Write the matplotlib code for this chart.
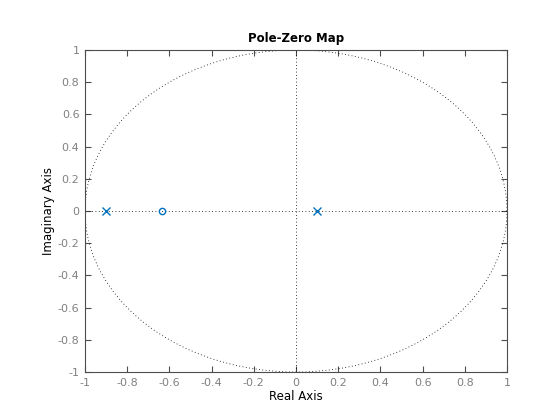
import numpy as np
import matplotlib
matplotlib.use("Agg")
import matplotlib.pyplot as plt

poles_re = [-0.9, 0.1]
poles_im = [0.0, 0.0]
zeros_re = [-0.635]
zeros_im = [0.0]
ticks = [-1, -0.8, -0.6, -0.4, -0.2, 0, 0.2, 0.4, 0.6, 0.8, 1]
tick_labels = ["-1", "-0.8", "-0.6", "-0.4", "-0.2", "0", "0.2", "0.4", "0.6", "0.8", "1"]

fig = plt.figure(figsize=(5.6, 4.2), dpi=100)
ax = fig.add_axes([85/560, 48/420, 422/560, 322/420])

t = np.linspace(0, 2*np.pi, 400)
ax.plot(np.cos(t), np.sin(t), linestyle=(0, (1, 3)), color="black", linewidth=0.6)
ax.plot([-1, 1], [0, 0], linestyle=(0, (1, 3)), color="black", linewidth=0.6)
ax.plot([0, 0], [-1, 1], linestyle=(0, (1, 3)), color="black", linewidth=0.6)

blue = (0, 0.447, 0.741)
ax.plot(poles_re, poles_im, linestyle="none", marker="x", markersize=5.5, color=blue, markeredgewidth=1)
ax.plot(zeros_re, zeros_im, linestyle="none", marker="o", markersize=4.5, markerfacecolor="none", markeredgecolor=blue, markeredgewidth=1)

ax.set_xlim(-1, 1)
ax.set_ylim(-1, 1)
ax.set_xticks(ticks)
ax.set_xticklabels(tick_labels)
ax.set_yticks(ticks)
ax.set_yticklabels(tick_labels)
gray = "#4d4d4d"
for s in ax.spines.values():
    s.set_color(gray)
    s.set_linewidth(0.8)
ax.tick_params(direction="in", top=True, right=True, length=4, width=0.8, color=gray,
               labelcolor="#808080", labelsize=8, pad=4)
ax.set_xlabel("Real Axis", fontsize=8.5, color="black", labelpad=2)
ax.set_ylabel("Imaginary Axis", fontsize=8.5, color="black", labelpad=2)
ax.set_title("Pole-Zero Map", fontsize=8.5, fontweight="bold", pad=6)

fig.savefig("out.png", dpi=100)
